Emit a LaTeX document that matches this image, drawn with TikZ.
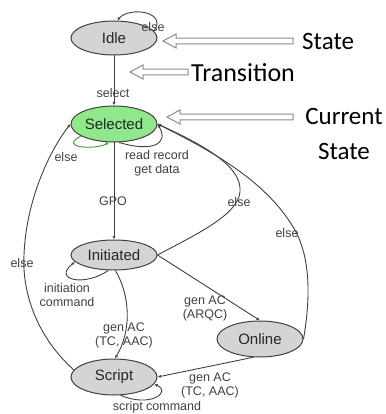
\documentclass[tikz,border=0pt]{standalone}
\usepackage{fontspec}
\setmainfont{Liberation Sans}
\newfontfamily\calfont{Carlito}
\usetikzlibrary{shapes.geometric,arrows.meta}
\definecolor{nodegray}{HTML}{D4D4D4}
\definecolor{selgreen}{HTML}{90E88C}
\definecolor{linegray}{HTML}{404040}
\definecolor{loopgreen}{HTML}{3A9A30}
\newcommand\hollowarrow[3]{%
  \draw[hol] (#1,#3) -- (#1+13,#3-7) -- (#1+13,#3-2.8) -- (#2,#3-2.8)
    -- (#2,#3+2.8) -- (#1+13,#3+2.8) -- (#1+13,#3+7) -- cycle;}
\begin{document}
\begin{tikzpicture}[x=1pt,y=-1pt,
  st/.style={ellipse, draw=linegray, line width=1pt, fill=nodegray,
    minimum width=86pt, minimum height=34pt, inner sep=0pt,
    font=\fontsize{15}{18}\selectfont, text=black!85},
  tr/.style={draw=linegray, line width=0.9pt, -{Latex[length=3.5pt,width=3pt]}},
  lb/.style={font=\fontsize{12.5}{14}\selectfont, text=black!75, align=center, inner sep=0pt},
  hol/.style={draw=black!45, fill=white, line width=1pt, line join=miter},
  ann/.style={font=\calfont\fontsize{25}{28}\selectfont, text=black, inner sep=0pt}]
\useasboundingbox (0,0) rectangle (385,414);

% states
\node[st] (idle) at (114,38) {Idle};
\node[st, fill=selgreen, minimum height=36pt] (sel) at (114,124) {Selected};
\node[st, minimum height=30pt] (init) at (114,255) {Initiated};
\node[st, minimum height=36pt] (scr) at (114,377) {Script};
\node[st, minimum height=36pt] (onl) at (260,339) {Online};

% transitions
\draw[tr] (idle.10) .. controls (168,12) and (130,6) .. (idle.80);
\node[lb] (l1) at (153,27) {else};

\draw[tr] (idle) -- (sel);
\node[lb] (l2) at (113,93) {select};

\draw[tr, draw=loopgreen] (sel.200) .. controls (58,148) and (95,150) .. (sel.255);
\node[lb] (l3) at (66,157) {else};

\draw[tr] (sel.285) .. controls (150,152) and (170,145) .. (sel.east);
\node[lb] (l4) at (157,163) {read record\\get data};

\draw[tr] (sel) -- (init);
\node[lb] (l5) at (113,201) {GPO};

\draw[tr] (init.east) .. controls (195,235) and (238,215) .. (240,192)
  .. controls (242,170) and (215,150) .. (sel.east);
\node[lb] (l6) at (239,202) {else};

\draw[tr] (onl.east) .. controls (312,290) and (308,255) .. (296,232)
  .. controls (270,185) and (220,155) .. (sel.east);
\node[lb] (l7) at (287,233) {else};

\draw[tr] (scr.170) .. controls (35,335) and (22,290) .. (24,255)
  .. controls (26,200) and (50,150) .. (sel.west);
\node[lb] (l8) at (22,263) {else};

\draw[tr] (init.250) .. controls (85,287) and (52,280) .. (init.190);
\node[lb] (l9) at (67,295) {initiation\\command};

\draw[tr] (init.275) .. controls (130,295) and (132,330) .. (scr.87);
\node[lb] (l10) at (124,335) {gen AC\\(TC, AAC)};

\draw[tr] (init.east) -- (onl.north);
\node[lb] (l11) at (205,308) {gen AC\\(ARQC)};

\draw[tr] (onl.250) -- (scr.east);
\node[lb] (l12) at (210,385) {gen AC\\(TC, AAC)};

\draw[tr] (scr.290) .. controls (150,408) and (172,392) .. (scr.350);
\node[lb] (l13) at (157,407) {script command};

% annotations
\hollowarrow{163}{293}{41}
\node[ann, anchor=west] (a1) at (302,41) {State};
\hollowarrow{130}{188}{72}
\node[ann, anchor=west, font=\calfont\fontsize{26}{28}\selectfont] (a2) at (191,73) {Transition};
\hollowarrow{167}{293}{117}
\node[ann, align=center, font=\calfont\fontsize{25}{35}\selectfont] (a3) at (344,134) {Current\\State};
\end{tikzpicture}
\end{document}
